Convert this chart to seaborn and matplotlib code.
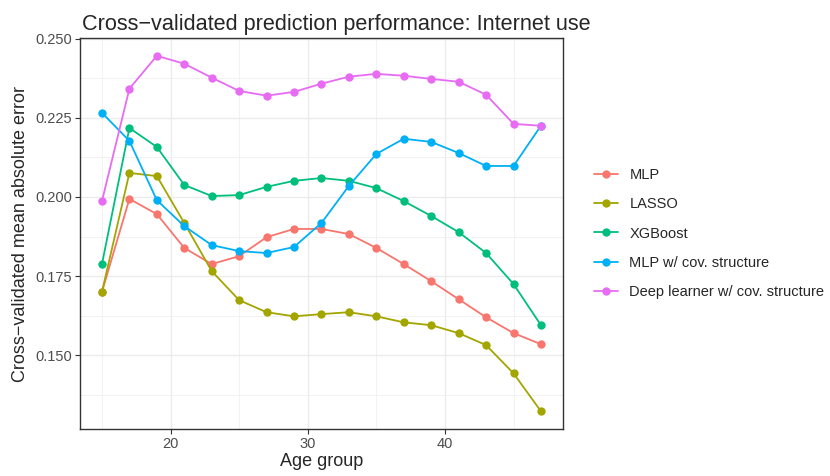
import numpy as np
import pandas as pd
import seaborn as sns
import matplotlib.pyplot as plt
from matplotlib.ticker import MultipleLocator

age = [15, 17, 19, 21, 23, 25, 27, 29, 31, 33, 35, 37, 39, 41, 43, 45, 47]

mlp = [0.1700, 0.1994, 0.1946, 0.1839, 0.1788, 0.1813, 0.1873, 0.1899, 0.1899,
       0.1883, 0.1839, 0.1788, 0.1734, 0.1677, 0.1620, 0.1570, 0.1535]
lasso = [0.1700, 0.2076, 0.2066, 0.1918, 0.1766, 0.1674, 0.1636, 0.1623, 0.1630,
         0.1636, 0.1623, 0.1604, 0.1595, 0.1570, 0.1532, 0.1443, 0.1323]
xgboost = [0.1788, 0.2218, 0.2158, 0.2038, 0.2003, 0.2006, 0.2032, 0.2051, 0.2060,
           0.2051, 0.2028, 0.1987, 0.1940, 0.1889, 0.1823, 0.1725, 0.1595]
mlp_cov = [0.2266, 0.2177, 0.1990, 0.1908, 0.1848, 0.1829, 0.1823, 0.1842, 0.1918,
           0.2035, 0.2136, 0.2184, 0.2174, 0.2139, 0.2098, 0.2098, 0.2225]
deep_cov = [0.1987, 0.2342, 0.2446, 0.2421, 0.2377, 0.2335, 0.2320, 0.2332, 0.2358,
            0.2380, 0.2389, 0.2383, 0.2373, 0.2364, 0.2323, 0.2231, 0.2225]

models = ["MLP", "LASSO", "XGBoost", "MLP w/ cov. structure",
          "Deep learner w/ cov. structure"]
colors = ["#F8766D", "#A3A500", "#00BF7D", "#00B0F6", "#E76BF3"]

df = pd.DataFrame({
    "age": age * 5,
    "mae": mlp + lasso + xgboost + mlp_cov + deep_cov,
    "model": np.repeat(models, len(age)),
})

sns.set_theme(style="white")
plt.rcParams["font.family"] = ["Liberation Sans", "DejaVu Sans"]

fig = plt.figure(figsize=(8.3, 4.76), dpi=100)
ax = fig.add_axes([0.0964, 0.0987, 0.5818, 0.8213])

# minor + major grid, theme_bw style
ax.xaxis.set_major_locator(MultipleLocator(10))
ax.xaxis.set_minor_locator(MultipleLocator(5))
ax.yaxis.set_major_locator(MultipleLocator(0.025))
ax.yaxis.set_minor_locator(MultipleLocator(0.0125))
ax.grid(which="major", color="#EBEBEB", linewidth=1.0)
ax.grid(which="minor", color="#F0F0F0", linewidth=0.6)
ax.set_axisbelow(True)

sns.lineplot(data=df, x="age", y="mae", hue="model", hue_order=models,
             palette=colors, marker="o", markersize=6, markeredgewidth=0,
             linewidth=1.3, ax=ax)

ax.set_xlim(13.4, 48.6)
ax.set_ylim(0.1267, 0.2502)
ax.yaxis.set_major_formatter(plt.FuncFormatter(lambda v, p: f"{v:.3f}"))

for s in ax.spines.values():
    s.set_color("#333333")
    s.set_linewidth(1.0)
ax.tick_params(which="major", length=3.5, width=0.8, color="#333333",
               labelsize=10.5, labelcolor="#4D4D4D", pad=2, left=True, bottom=True)
ax.tick_params(which="minor", length=0)

ax.set_xlabel("Age group", fontsize=13, labelpad=2)
ax.set_ylabel("Cross\u2212validated mean absolute error", fontsize=13, labelpad=5)
ax.set_title("Cross\u2212validated prediction performance: Internet use",
             fontsize=15.6, loc="left", pad=6, x=0.005)

ax.legend(title=None, frameon=False, loc="center left",
          bbox_to_anchor=(1.038, 0.5), fontsize=10.5, handlelength=1.65,
          labelspacing=1.05, handletextpad=0.75)

fig.savefig("out.png", dpi=100)
